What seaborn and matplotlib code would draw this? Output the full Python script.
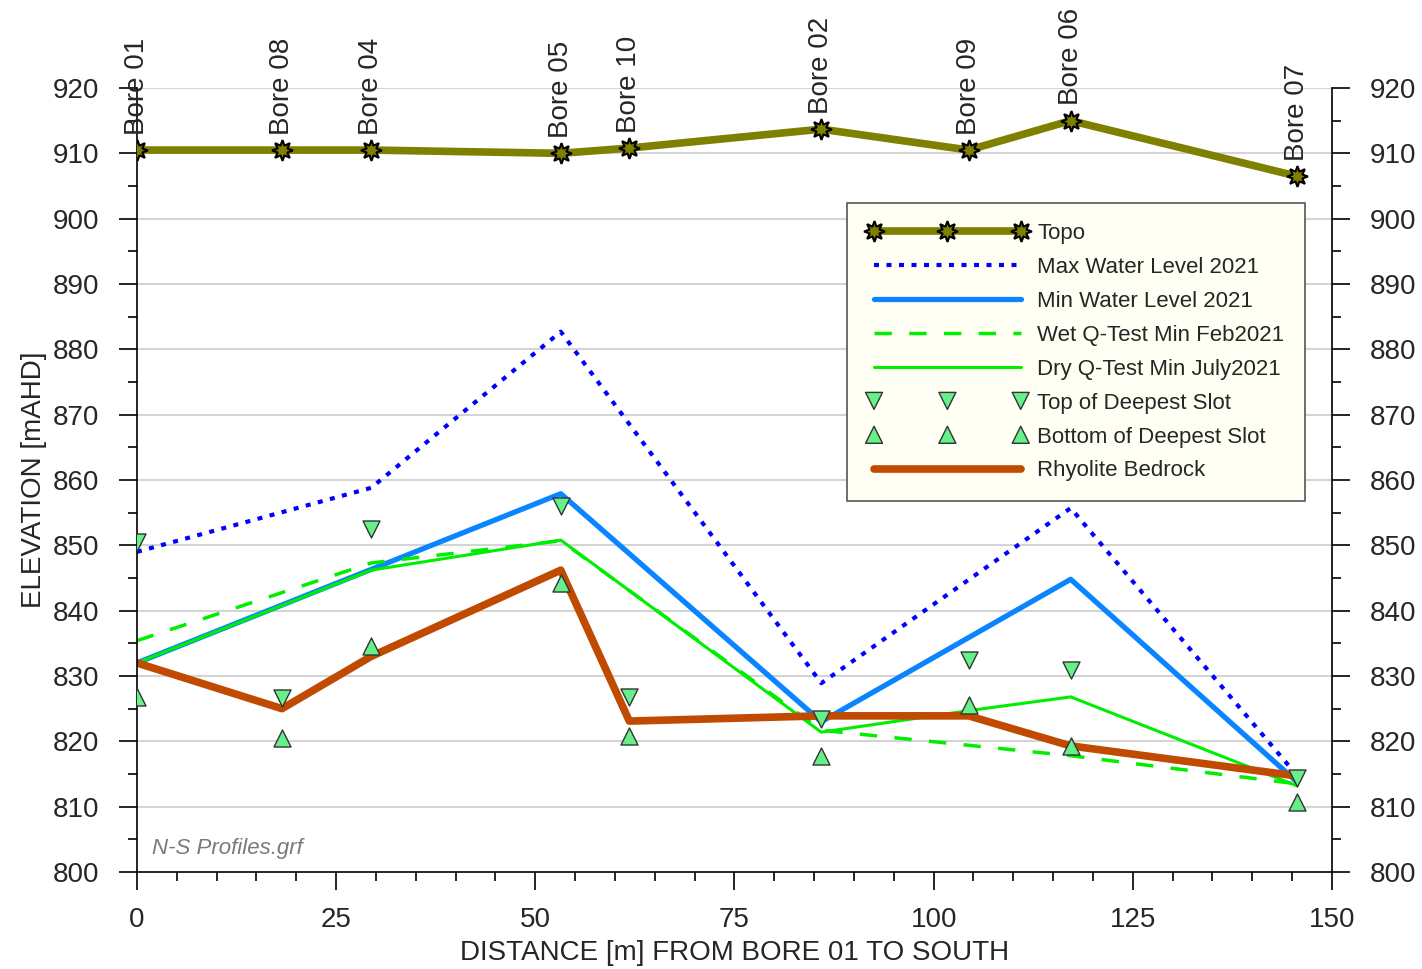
import numpy as np
import pandas as pd
import matplotlib.pyplot as plt
import seaborn as sns
from matplotlib.ticker import MultipleLocator

bores = ['Bore 01', 'Bore 08', 'Bore 04', 'Bore 05', 'Bore 10', 'Bore 02', 'Bore 09', 'Bore 06', 'Bore 07']
dist = [0, 18.2, 29.4, 53.2, 61.8, 85.9, 104.4, 117.2, 145.6]

topo = [910.5, 910.5, 910.5, 910.0, 910.8, 913.7, 910.5, 915.0, 906.5]
top_slot = [850.5, 826.6, 852.5, 856.0, 826.8, 823.4, 832.4, 830.9, 814.4]
bottom_slot = [826.8, 820.5, 834.6, 844.2, 820.8, 817.8, 825.6, 819.3, 810.7]
bedrock = [832.0, 825.0, 833.0, 846.2, 823.1, 823.9, 823.9, 819.3, 814.7]

# water levels only measured at some bores
max_wl_x = [0, 29.4, 53.2, 85.9, 117.2, 145.6]
max_wl = [849.0, 858.8, 882.7, 828.9, 855.7, 814.8]
min_wl_x = [0, 53.2, 85.9, 117.2, 145.6]
min_wl = [832.0, 857.9, 823.0, 844.8, 813.8]
wet_x = [0, 29.4, 53.2, 85.9, 117.2, 145.6]
wet = [835.4, 847.3, 850.7, 821.7, 817.8, 813.5]
dry_x = [0, 29.4, 53.2, 85.9, 104.4, 117.2, 145.6]
dry = [832.0, 846.2, 850.8, 821.4, 824.7, 826.8, 813.2]

sns.set_style("white")
plt.rcParams['font.family'] = ['Liberation Sans', 'DejaVu Sans']

fig = plt.figure(figsize=(14.22, 9.69), dpi=100)
ax = fig.add_axes([0.0963, 0.1001, 0.8404, 0.8091])

for y in range(810, 930, 10):
    ax.axhline(y, color='#d4d4d4', lw=1.5, zorder=0)

sns.lineplot(x=max_wl_x, y=max_wl, ax=ax, sort=False, color='#0000ff', lw=3, linestyle=(0, (1.2, 1.8)),
             label='Max Water Level 2021')
sns.lineplot(x=min_wl_x, y=min_wl, ax=ax, sort=False, color='#0a84ff', lw=3.8, label='Min Water Level 2021')
sns.lineplot(x=wet_x, y=wet, ax=ax, sort=False, color='#00ee00', lw=2.5, linestyle=(0, (5, 5)),
             label='Wet Q-Test Min Feb2021')
sns.lineplot(x=dry_x, y=dry, ax=ax, sort=False, color='#00ee00', lw=2.2, label='Dry Q-Test Min July2021')
sns.lineplot(x=dist, y=bedrock, ax=ax, sort=False, color='#c04a00', lw=5.5, label='Rhyolite Bedrock')
sns.lineplot(x=dist, y=topo, ax=ax, sort=False, color='#808000', lw=5.5, marker=(8, 1, 0), markersize=15,
             markerfacecolor='#808000', markeredgecolor='black', markeredgewidth=1.5, label='Topo', zorder=5)
sns.scatterplot(x=dist, y=top_slot, ax=ax, marker='v', s=150, color='#66f08a', edgecolor='#333333',
                linewidth=1, label='Top of Deepest Slot', zorder=6)
sns.scatterplot(x=dist, y=bottom_slot, ax=ax, marker='^', s=150, color='#66f08a', edgecolor='#333333',
                linewidth=1, label='Bottom of Deepest Slot', zorder=6)

for name, xv, yv in zip(bores, dist, topo):
    ax.annotate(name, (xv, yv), xytext=(0, 11), textcoords='offset points', rotation=90,
                ha='center', va='bottom', fontsize=20, annotation_clip=False)

ax.set_xlim(0, 150)
ax.set_ylim(800, 920)
ax.xaxis.set_major_locator(MultipleLocator(25))
ax.xaxis.set_minor_locator(MultipleLocator(5))
ax.yaxis.set_major_locator(MultipleLocator(10))
ax.yaxis.set_minor_locator(MultipleLocator(5))
ax.tick_params(which='both', direction='out', left=True, bottom=True, right=True, labelright=True,
               color='black', width=1.2)
ax.tick_params(which='major', length=13, labelsize=20)
ax.tick_params(which='minor', length=6.5)
ax.tick_params(axis='x', which='major', pad=12)
ax.tick_params(axis='y', which='major', pad=14)
for s in ['left', 'bottom', 'right']:
    ax.spines[s].set_color('black')
    ax.spines[s].set_linewidth(1.2)
ax.spines['top'].set_visible(False)

ax.set_xlabel('DISTANCE [m] FROM BORE 01 TO SOUTH', fontsize=20, labelpad=5)
ax.set_ylabel('ELEVATION [mAHD]', fontsize=20, labelpad=4)
ax.text(0.013, 0.03, 'N-S Profiles.grf', transform=ax.transAxes, fontsize=16, color='#7a7a7a',
        style='italic', va='center')

order = ['Topo', 'Max Water Level 2021', 'Min Water Level 2021', 'Wet Q-Test Min Feb2021',
         'Dry Q-Test Min July2021', 'Top of Deepest Slot', 'Bottom of Deepest Slot', 'Rhyolite Bedrock']
h, l = ax.get_legend_handles_labels()
hd = dict(zip(l, h))
leg = ax.legend([hd[k] for k in order], order, loc='upper right', bbox_to_anchor=(0.977, 0.853),
                borderaxespad=0, fontsize=16, numpoints=3, scatterpoints=3, scatteryoffsets=[0.5],
                handlelength=7.2, handletextpad=0.45, frameon=True, facecolor='#fffff4',
                edgecolor='#555555', fancybox=False, framealpha=1, borderpad=0.9, labelspacing=0.58)
leg.get_frame().set_linewidth(1.2)

fig.savefig('out.png', dpi=100)
